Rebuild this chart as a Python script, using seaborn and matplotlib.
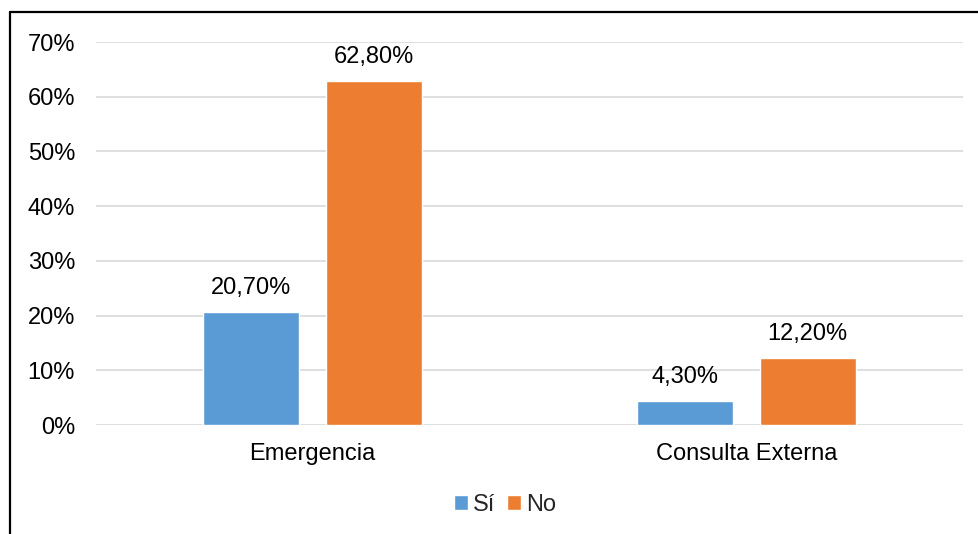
import matplotlib
matplotlib.use("Agg")
import matplotlib.pyplot as plt
from matplotlib.lines import Line2D
import seaborn as sns
import pandas as pd

categories = ["Emergencia", "Consulta Externa"]
series = ["Sí", "No"]
si_values = [20.7, 4.3]
no_values = [62.8, 12.2]
y_ticks = [0, 10, 20, 30, 40, 50, 60, 70]

colors = {"Sí": "#5B9BD5", "No": "#ED7D31"}

rows = []
for cat, s, n in zip(categories, si_values, no_values):
    rows.append({"cat": cat, "serie": "Sí", "val": s})
    rows.append({"cat": cat, "serie": "No", "val": n})
df = pd.DataFrame(rows)

sns.set_theme(style="white")
plt.rcParams["font.family"] = ["Liberation Sans", "DejaVu Sans"]

fig = plt.figure(figsize=(9.79, 5.34), dpi=100)
ax = fig.add_axes([0.098, 0.2041, 0.8857, 0.7172])

sns.barplot(data=df, x="cat", y="val", hue="serie", order=categories,
            hue_order=series, palette=colors, width=0.5675, gap=0.2195,
            saturation=1, errorbar=None, ax=ax, zorder=3)

ax.set_xlim(-0.5, 1.5)
ax.set_ylim(0, 70)
ax.set_yticks(y_ticks)
ax.set_yticklabels([f"{t}%" for t in y_ticks])
ax.yaxis.grid(True, color="#D9D9D9", linewidth=1.2, zorder=0)
ax.xaxis.grid(False)
for sp in ax.spines.values():
    sp.set_visible(False)
ax.tick_params(axis="y", length=0, pad=15, labelsize=17, colors="#000000")
ax.tick_params(axis="x", length=0, pad=13, labelsize=17, colors="#000000")
ax.set_xlabel("")
ax.set_ylabel("")

for container in ax.containers:
    labels = [f"{b.get_height():.2f}%".replace(".", ",") for b in container]
    ax.bar_label(container, labels=labels, padding=9.5, fontsize=17, color="#000000")

handles, labs = ax.get_legend_handles_labels()
ax.legend(handles, labs, loc="center", bbox_to_anchor=(0.516, 0.055),
          bbox_transform=fig.transFigure, ncol=2, frameon=False, fontsize=17,
          handlelength=0.6, handleheight=0.6, handletextpad=0.2, columnspacing=0.5)

# frame lines along the top and left of the chart area
fig.add_artist(Line2D([0.0102, 0.0102], [0.0, 0.977], transform=fig.transFigure,
                      color="black", linewidth=1.6))
fig.add_artist(Line2D([0.0102, 1.0], [0.977, 0.977], transform=fig.transFigure,
                      color="black", linewidth=1.6))

fig.savefig("out.png", dpi=100)
